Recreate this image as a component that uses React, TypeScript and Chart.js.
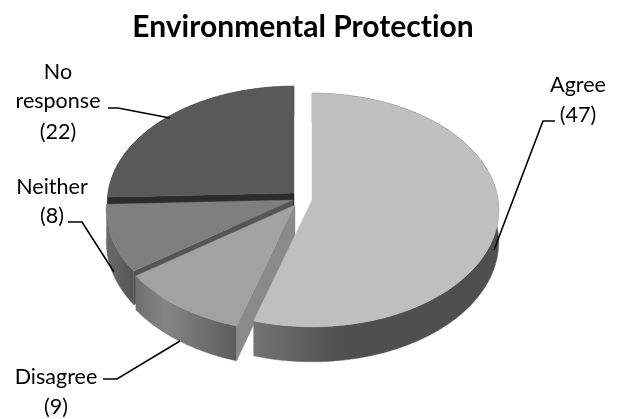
import React, { useEffect, useRef } from "react";
import { Chart, registerables } from "chart.js";

Chart.register(...registerables);

const chartTitle = "Environmental Protection";
const categories = ["Agree", "Disagree", "Neither", "No response"];
const responses = [47, 9, 8, 22];

const FONT = 'Lato, "Open Sans", sans-serif';
const R = 186;
const RY = 116;
const P = 0.0855;
const DEPTH = 32;

const APEX: [number, number][] = [
  [312, 200],
  [295, 205],
  [293, 200],
  [294, 193],
];
const TOP = ["#bfbfbf", "#a2a2a2", "#7f7f7f", "#595959"];
const EDGE = ["#555555", "#8a8a8a", "#555555", "#2b2b2b"];
const WALL: [string, string][] = [
  ["#747474", "#4f4f4f"],
  ["#858585", "#5c5c5c"],
  ["#6a6a6a", "#565656"],
  ["#3f3f3f", "#3f3f3f"],
];
const WALL_STOP = [0.35, 1, 1, 1];
const LABEL_LINES: [number, string[], number[]][] = [
  [578, ["Agree"], [85, 115]],
  [56, ["Disagree"], [377, 407]],
  [52, ["Neither"], [187, 216]],
  [58, ["No", "response"], [72, 101, 132]],
];
const LEADERS: [number, number][][] = [
  [[555, 121], [543, 121], [494, 250]],
  [[103, 379], [117, 379], [180, 341]],
  [[68, 222], [82, 222], [114, 272]],
  [[108, 108], [118, 108], [170, 118]],
];

function project(i: number, a: number, z: number): [number, number] {
  const u = Math.cos(a);
  const v = Math.sin(a);
  const s = 1 / (1 - P * v);
  return [APEX[i][0] + R * u * s, APEX[i][1] + RY * v * s + z * DEPTH * s];
}

function arcPoints(i: number, a0: number, a1: number, z: number) {
  const n = Math.max(2, Math.ceil(Math.abs(a1 - a0) / 0.01));
  const pts: [number, number][] = [];
  for (let k = 0; k <= n; k++) pts.push(project(i, a0 + ((a1 - a0) * k) / n, z));
  return pts;
}

function fillPoly(ctx: CanvasRenderingContext2D, pts: [number, number][], fill: any) {
  ctx.beginPath();
  pts.forEach((p, k) => (k ? ctx.lineTo(p[0], p[1]) : ctx.moveTo(p[0], p[1])));
  ctx.closePath();
  ctx.fillStyle = fill;
  ctx.strokeStyle = fill;
  ctx.lineWidth = 0.4;
  ctx.fill();
  ctx.stroke();
}

const pie3d = {
  id: "pie3d",
  beforeDraw(chart: any) {
    (chart.ctx as any).letterSpacing = "0.01px";
  },
  beforeDatasetDraw(chart: any) {
    const ctx: CanvasRenderingContext2D = chart.ctx;
    const arcs = chart.getDatasetMeta(0).data;
    ctx.save();
    for (const i of [3, 2, 1, 0]) {
      const { startAngle, endAngle } = arcs[i];
      const top = arcPoints(i, startAngle, endAngle, 0);
      const bottom = arcPoints(i, startAngle, endAngle, 1);
      // outer wall
      const from = Math.min(...top.map((p) => p[0]));
      const to = Math.max(...top.filter((_, k) => Math.sin(startAngle + ((endAngle - startAngle) * k) / (top.length - 1)) >= 0).map((p) => p[0]));
      const g = ctx.createLinearGradient(from, 0, to, 0);
      if (i === 1) {
        g.addColorStop(0, "#6f6f6f");
        g.addColorStop(0.3, WALL[i][0]);
        g.addColorStop(1, WALL[i][1]);
      } else {
        g.addColorStop(0, WALL[i][0]);
        g.addColorStop(WALL_STOP[i], WALL[i][1]);
      }
      fillPoly(ctx, [...top, ...bottom.slice().reverse()], g);
      // radial cut face
      if (i !== 0) {
        const apexTop: [number, number] = [APEX[i][0], APEX[i][1]];
        const apexBottom: [number, number] = [APEX[i][0], APEX[i][1] + DEPTH];
        fillPoly(ctx, [apexTop, top[0], bottom[0], apexBottom], EDGE[i]);
      }
      // top face
      fillPoly(ctx, [[APEX[i][0], APEX[i][1]], ...top], TOP[i]);
    }
    ctx.restore();
    return false;
  },
  afterDatasetsDraw(chart: any) {
    const ctx: CanvasRenderingContext2D = chart.ctx;
    ctx.save();
    ctx.strokeStyle = "#000000";
    ctx.lineWidth = 1.6;
    LEADERS.forEach((pts) => {
      ctx.beginPath();
      pts.forEach((p, k) => (k ? ctx.lineTo(p[0], p[1]) : ctx.moveTo(p[0], p[1])));
      ctx.stroke();
    });
    ctx.fillStyle = "#000000";
    ctx.font = `21.5px ${FONT}`;
    ctx.textAlign = "center";
    ctx.textBaseline = "middle";
    LABEL_LINES.forEach(([x, lines, ys], i) => {
      const all = [...lines, `(${responses[i]})`];
      all.forEach((t, k) => ctx.fillText(t, x, ys[k]));
    });
    ctx.restore();
  },
};

export default function App() {
  const ref = useRef<HTMLCanvasElement>(null);
  useEffect(() => {
    const chart = new Chart(ref.current as HTMLCanvasElement, {
      type: "pie",
      data: {
        labels: categories,
        datasets: [{ data: responses, backgroundColor: TOP, borderWidth: 0 }],
      },
      options: {
        responsive: false,
        animation: false,
        layout: { padding: { right: 12 } },
        plugins: {
          legend: { display: false },
          tooltip: { enabled: false },
          title: {
            display: true,
            text: chartTitle,
            color: "#000000",
            font: { family: FONT, size: 30, weight: "bold" },
            padding: { top: 9, bottom: 10 },
          },
        },
      },
      plugins: [pie3d],
    } as any);
    return () => chart.destroy();
  }, []);
  return (
    <div style={{ position: "absolute", left: 0, top: 0, width: 618, height: 419, background: "#fff" }}>
      <canvas ref={ref} width={618} height={419} style={{ display: "block" }} />
    </div>
  );
}
